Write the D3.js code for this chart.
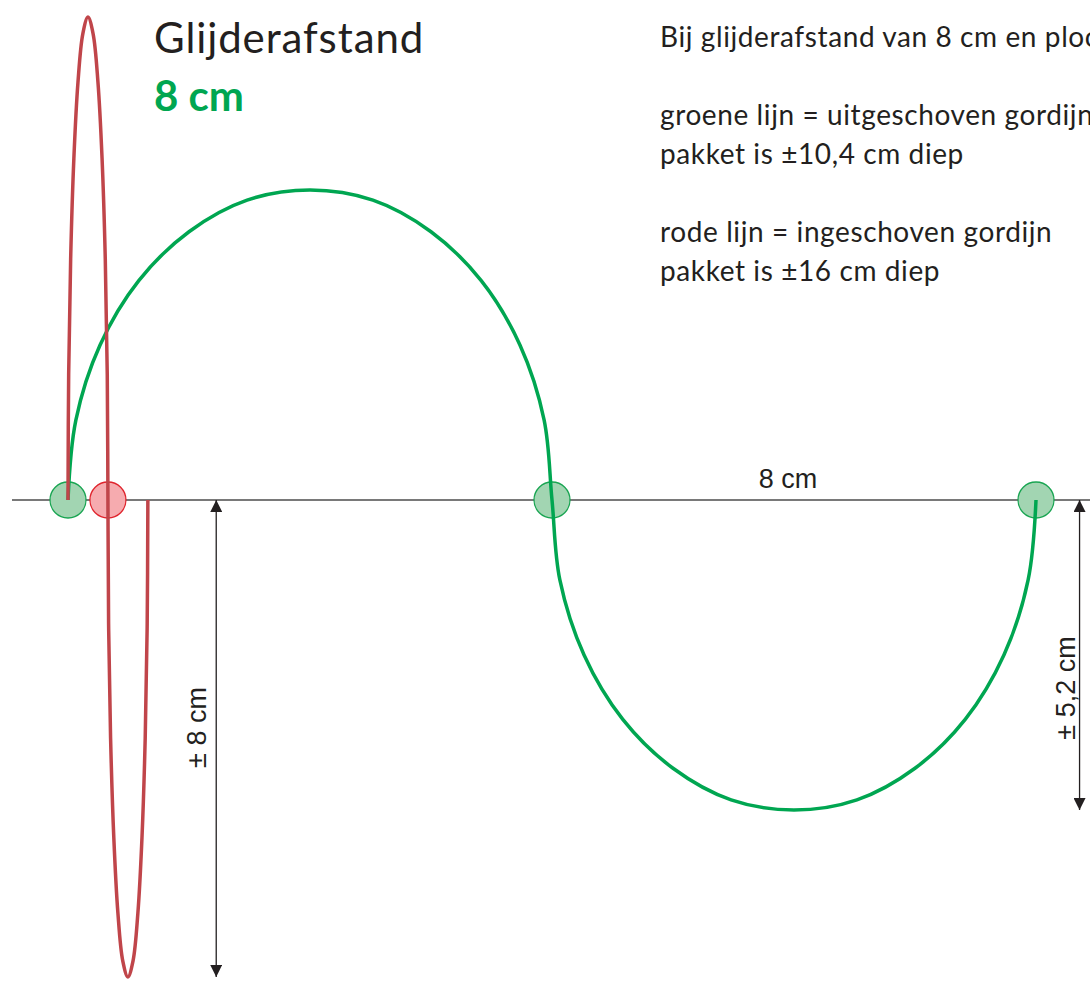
<!DOCTYPE html>
<html>
<head>
<meta charset="utf-8">
<script src="https://cdn.jsdelivr.net/npm/d3@7"></script>
<style>
  html, body { margin: 0; padding: 0; background: #fff; overflow: hidden; }
  svg { display: block; }
</style>
</head>
<body>
<svg id="chart" width="1090" height="981"></svg>
<script>
// ---- data (cm) ----
// green line: uitgeschoven gordijn (x cm, y cm)
const greenX = [0, 0.13, 0.53, 1.17, 2.0, 2.96, 4.0, 5.04, 6.0, 6.83, 7.47, 7.87, 8,
                8.13, 8.53, 9.17, 10.0, 10.96, 12.0, 13.04, 14.0, 14.83, 15.47, 15.87, 16];
const greenY = [0, 1.34, 2.6, 3.68, 4.5, 5.03, 5.2, 5.03, 4.5, 3.68, 2.6, 1.34, 0,
                -1.34, -2.6, -3.68, -4.5, -5.03, -5.2, -5.03, -4.5, -3.68, -2.6, -1.34, 0];
// red line: ingeschoven gordijn
const redX = [0, 0.011, 0.044, 0.097, 0.165, 0.245, 0.33, 0.415, 0.495, 0.563, 0.616, 0.649, 0.66,
              0.671, 0.704, 0.757, 0.825, 0.905, 0.99, 1.075, 1.155, 1.223, 1.276, 1.309, 1.32];
const redY = [0, 2.1, 4.05, 5.73, 7.01, 7.82, 8.1, 7.82, 7.01, 5.73, 4.05, 2.1, 0,
              -2.07, -4.0, -5.66, -6.93, -7.73, -8.0, -7.73, -6.93, -5.66, -4.0, -2.07, 0];
// glider points
const greenDots = [0, 8, 16];
const redDots = [0.66];
// dimension arrows
const dimArrows = [
  { x: 2.45, from: 0, to: -8.0, label: "± 8 cm" },
  { x: 16.72, from: 0, to: -5.2, label: "± 5,2 cm" }
];
const spanLabel = { x: 11.9, label: "8 cm" };
const title = "Glijderafstand";
const subtitle = "8 cm";
const notes = [
  "Bij glijderafstand van 8 cm en plooi",
  "",
  "groene lijn = uitgeschoven gordijn",
  "pakket is ±10,4 cm diep",
  "",
  "rode lijn = ingeschoven gordijn",
  "pakket is ±16 cm diep"
];

// ---- scales ----
const x = d3.scaleLinear().domain([0, 16]).range([68, 1036]);
const y = d3.scaleLinear().domain([0, 5.2]).range([500, 190]);

const svg = d3.select("#chart");

// baseline
svg.append("line")
  .attr("x1", 12).attr("x2", 1090)
  .attr("y1", y(0)).attr("y2", y(0))
  .attr("stroke", "#4d4d4d").attr("stroke-width", 1.4);

// arrows
const defs = svg.append("defs");
defs.append("marker").attr("id", "ah")
  .attr("viewBox", "0 0 12 12").attr("refX", 12).attr("refY", 6)
  .attr("markerWidth", 12).attr("markerHeight", 12)
  .attr("markerUnits", "userSpaceOnUse").attr("orient", "auto-start-reverse")
  .append("path").attr("d", "M0,0 L12,6 L0,12 Z").attr("fill", "#231f20");

dimArrows.forEach(a => {
  svg.append("line")
    .attr("x1", x(a.x)).attr("x2", x(a.x))
    .attr("y1", y(a.from)).attr("y2", y(a.to))
    .attr("stroke", "#231f20").attr("stroke-width", 1.3)
    .attr("marker-start", "url(#ah)").attr("marker-end", "url(#ah)");
});

// arrow labels
svg.append("text")
  .attr("transform", `translate(${x(2.45) - 10},${(y(0) + y(-8)) / 2 - 11}) rotate(-90)`)
  .attr("text-anchor", "middle")
  .attr("font-family", "Liberation Sans, Arial, sans-serif")
  .attr("font-size", 27).attr("fill", "#231f20")
  .text(dimArrows[0].label);
svg.append("text")
  .attr("transform", `translate(${x(16.72) - 5},${(y(0) + y(-5.2)) / 2 + 33}) rotate(-90)`)
  .attr("text-anchor", "middle")
  .attr("font-family", "Liberation Sans, Arial, sans-serif")
  .attr("font-size", 27).attr("fill", "#231f20")
  .text(dimArrows[1].label);

// span label
svg.append("text")
  .attr("x", x(spanLabel.x)).attr("y", y(0) - 12)
  .attr("text-anchor", "middle")
  .attr("font-family", "Liberation Sans, Arial, sans-serif")
  .attr("font-size", 27).attr("fill", "#231f20")
  .text(spanLabel.label);

// glider circles
svg.selectAll("circle.g").data(greenDots).join("circle")
  .attr("class", "g")
  .attr("cx", d => x(d)).attr("cy", y(0)).attr("r", 18)
  .attr("fill", "#a2d5b2").attr("stroke", "#19a552").attr("stroke-width", 1.3);
svg.selectAll("circle.r").data(redDots).join("circle")
  .attr("class", "r")
  .attr("cx", d => x(d)).attr("cy", y(0)).attr("r", 18)
  .attr("fill", "#f6abaf").attr("stroke", "#e0242d").attr("stroke-width", 1.3);

// curves
const line = d3.line().x(d => x(d[0])).y(d => y(d[1])).curve(d3.curveCatmullRom.alpha(0.5));
svg.append("path")
  .attr("d", line(greenX.map((v, i) => [v, greenY[i]])))
  .attr("fill", "none").attr("stroke", "#00a651").attr("stroke-width", 3.5);
svg.append("path")
  .attr("d", line(redX.map((v, i) => [v, redY[i]])))
  .attr("fill", "none").attr("stroke", "#c0454a").attr("stroke-width", 3.5);

// title
svg.append("text")
  .attr("x", 154).attr("y", 53)
  .attr("font-family", "Lato, 'Open Sans', sans-serif")
  .attr("font-size", 42).attr("letter-spacing", 0.9).attr("fill", "#231f20")
  .text(title);
svg.append("text")
  .attr("x", 154).attr("y", 111)
  .attr("font-family", "Lato, 'Open Sans', sans-serif")
  .attr("font-weight", "bold")
  .attr("font-size", 42).attr("fill", "#00a651")
  .text(subtitle);

// notes
svg.append("g").selectAll("text").data(notes).join("text")
  .attr("x", 660).attr("y", (d, i) => 47 + i * 39)
  .attr("font-family", "Lato, 'Open Sans', sans-serif")
  .attr("font-size", 28).attr("letter-spacing", 0.6).attr("fill", "#231f20")
  .text(d => d);
</script>
</body>
</html>
